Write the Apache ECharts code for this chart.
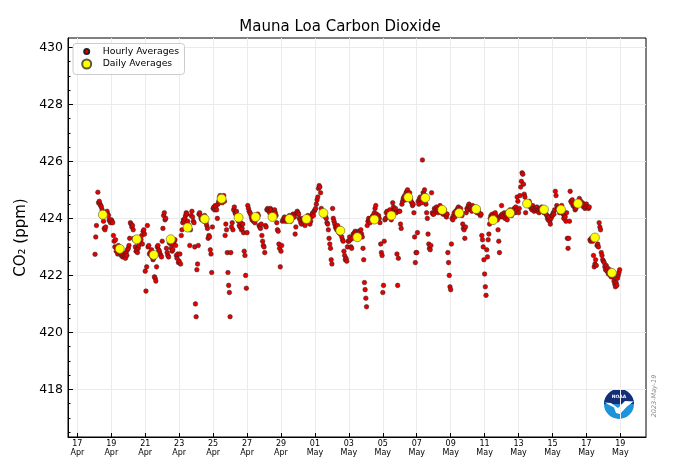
<!DOCTYPE html>
<html><head><meta charset="utf-8">
<script src="https://cdn.jsdelivr.net/npm/echarts@6/dist/echarts.min.js"></script>
<style>html,body{margin:0;padding:0;background:#fff}#chart{width:680px;height:476px}</style>
</head><body><div id="chart"></div>
<script>
const chartTitle = 'Mauna Loa Carbon Dioxide';
const yAxisTitle = 'CO₂ (ppm)';
const stampText = '2023-May-19';
const seriesNames = ['Hourly Averages', 'Daily Averages'];
const xRange = ['2023-04-16T10:45', '2023-05-20T12:15'];
const yRange = [416.33, 430.33];
const xTickDates = ['2023-04-17','2023-04-19','2023-04-21','2023-04-23','2023-04-25','2023-04-27','2023-04-29',
  '2023-05-01','2023-05-03','2023-05-05','2023-05-07','2023-05-09','2023-05-11','2023-05-13','2023-05-15','2023-05-17','2023-05-19'];
const xTickLabels = ['17\nApr','19\nApr','21\nApr','23\nApr','25\nApr','27\nApr','29\nApr',
  '01\nMay','03\nMay','05\nMay','07\nMay','09\nMay','11\nMay','13\nMay','15\nMay','17\nMay','19\nMay'];
const yMajorTicks = [418, 420, 422, 424, 426, 428, 430];
const yMinorTicks = [416.5, 417, 417.5, 418.5, 419, 419.5, 420.5, 421, 421.5, 422.5, 423, 423.5, 424.5, 425, 425.5, 426.5, 427, 427.5, 428.5, 429, 429.5];

const dailyDates = ['2023-04-18','2023-04-19','2023-04-20','2023-04-21','2023-04-22','2023-04-23','2023-04-24','2023-04-25',
  '2023-04-26','2023-04-27','2023-04-28','2023-04-29','2023-04-30','2023-05-01','2023-05-02','2023-05-03','2023-05-04',
  '2023-05-05','2023-05-06','2023-05-07','2023-05-08','2023-05-09','2023-05-10','2023-05-11','2023-05-12','2023-05-13',
  '2023-05-14','2023-05-15','2023-05-16','2023-05-17','2023-05-18'];
const dailyValues = [424.13, 422.93, 423.27, 422.72, 423.27, 423.68, 423.98, 424.69, 424.03, 424.05, 424.05, 423.98, 423.98,
  424.19, 423.57, 423.34, 423.96, 424.10, 424.74, 424.72, 424.30, 424.19, 424.33, 423.94, 424.19, 424.52, 424.31, 424.31,
  424.52, 423.33, 422.09];

// hourly values, hour 0..23 of each day
const hourly_04_18 = [null,422.74,423.35,423.75,null,424.92,424.55,424.6,424.5,424.45,424.4,424.3,424.05,423.9,423.65,423.6,423.7,424.2,424.25,424.15,424.1,423.95,423.9,423.85];
const hourly_04_19 = [423.95,423.9,423.85,423.4,423.2,423.0,423.25,422.85,422.95,422.75,423.05,422.9,422.8,422.95,422.7,422.85,422.65,422.75,422.7,422.65,422.6,422.8,422.7,422.9];
const hourly_04_20 = [422.95,423.05,423.3,423.85,423.8,423.7,423.75,423.6,423.3,423.25,423.0,422.85,422.9,422.8,422.95,423.05,423.3,423.2,423.25,423.4,423.1,423.55,423.6,423.45];
const hourly_04_21 = [422.15,421.45,422.3,423.75,423.0,423.05,422.75,422.8,422.7,422.9,422.65,422.55,422.6,421.95,421.9,421.8,422.3,423.0,423.05,422.9,422.85,422.75,422.7,422.65];
const hourly_04_22 = [423.2,423.65,424.1,424.2,423.95,424.0,422.95,422.8,422.7,422.65,423.15,423.3,423.1,422.95,422.85,422.9,423.1,423.2,423.25,423.05,422.7,422.6,422.75,422.45];
const hourly_04_23 = [422.5,422.75,422.4,423.4,423.6,423.85,423.95,423.9,424.0,424.1,424.2,424.15,423.9,423.7,423.75,423.05,423.6,424.1,424.25,424.05,423.9,423.85,423.0,421.0];
const hourly_04_24 = [420.55,422.2,422.4,423.05,424.15,424.2,424.1,424.0,423.95,424.05,424.0,423.9,424.1,423.95,423.85,423.75,423.65,423.3,423.4,423.35,422.9,422.75,422.1,423.7];
const hourly_04_25 = [424.35,424.4,424.3,424.45,424.4,424.3,424.0,424.5,424.6,424.75,424.8,424.7,424.65,424.55,424.7,424.8,424.6,423.4,423.8,423.6,422.8,422.1,421.65,421.4];
const hourly_04_26 = [420.55,422.8,423.7,423.85,423.6,424.3,424.4,424.2,424.15,424.25,424.1,424.0,423.9,423.75,423.7,423.85,423.6,423.65,423.8,423.5,422.85,422.7,422.0,421.55];
const hourly_04_27 = [423.5,424.45,424.35,424.25,424.2,424.15,424.05,423.95,424.0,423.9,424.0,423.85,423.95,424.1,424.0,424.15,424.1,423.75,423.7,423.65,423.8,423.4,423.2,423.05];
const hourly_04_28 = [423.0,422.8,423.75,423.7,424.3,424.35,424.3,424.25,424.2,424.35,424.3,424.15,424.2,424.1,424.25,424.3,424.2,424.1,423.85,423.6,423.55,423.1,422.95,422.3];
const hourly_04_29 = [422.85,423.05,423.9,423.95,424.0,424.05,423.9,423.95,424.0,423.9,424.05,424.0,424.1,423.95,423.9,424.05,424.0,424.15,424.1,424.05,423.45,423.7,424.2,424.25];
const hourly_04_30 = [424.2,424.15,424.0,423.95,423.85,423.8,423.95,424.0,423.9,423.85,423.75,424.0,423.95,423.9,424.1,424.05,423.85,423.8,423.9,424.05,424.15,424.2,424.1,424.25];
const hourly_05_01 = [424.3,424.35,424.5,424.65,424.75,425.05,425.15,425.1,424.9,424.35,424.2,424.25,424.15,424.2,424.1,424.05,424.0,423.85,423.8,423.6,423.3,423.1,422.95,422.55];
const hourly_05_02 = [422.4,424.35,424.0,423.9,423.8,423.7,423.65,423.6,423.75,423.55,423.5,423.65,423.45,423.6,423.35,423.25,423.2,422.85,422.7,422.55,422.6,422.5,423.0,423.2];
const hourly_05_03 = [423.2,423.35,423.25,423.0,422.95,423.3,423.45,423.4,423.5,423.55,423.5,423.35,423.3,423.45,423.55,423.5,423.4,423.6,423.45,423.35,422.95,422.55,421.75,421.5];
const hourly_05_04 = [421.2,420.9,423.75,423.9,424.0,423.9,423.85,424.0,423.95,424.05,424.1,424.0,424.2,424.35,424.45,424.15,424.0,423.95,424.1,424.0,423.85,423.1,422.8,422.7];
const hourly_05_05 = [421.4,421.65,423.2,423.95,424.0,424.2,424.25,424.1,424.05,424.2,424.3,424.15,423.95,424.1,424.55,424.4,424.3,424.25,424.35,424.2,422.75,421.65,422.6,424.25];
const hourly_05_06 = [424.25,423.8,423.65,424.5,424.6,424.7,424.75,424.8,424.65,424.9,424.95,425.0,424.85,424.8,424.9,424.7,424.6,424.55,424.45,424.5,424.2,423.35,422.45,422.8];
const hourly_05_07 = [422.8,423.5,424.6,424.5,424.7,424.75,424.65,424.55,426.05,424.9,424.85,425.0,424.8,424.5,424.2,424.0,423.45,423.1,422.95,422.9,423.05,424.9,424.2,424.15];
const hourly_05_08 = [424.15,424.35,424.3,424.25,424.4,424.3,424.2,424.35,424.25,424.45,424.3,424.2,424.35,424.15,424.25,424.3,424.2,424.1,424.05,424.15,422.8,422.45,422.0,421.6];
const hourly_05_09 = [421.5,423.1,424.0,423.95,424.1,424.2,424.05,424.25,424.15,424.3,424.35,424.4,424.3,424.25,424.35,424.2,424.1,423.8,423.65,423.6,423.3,423.7,424.2,424.35];
const hourly_05_10 = [424.3,424.45,424.5,424.35,424.4,424.3,424.25,424.45,424.35,424.3,424.4,424.25,424.3,424.2,424.35,424.25,424.2,424.15,424.1,424.15,423.4,423.25,423.0,422.55];
const hourly_05_11 = [422.05,421.6,421.3,422.9,422.65,423.25,423.45,423.8,424.0,424.1,424.05,424.15,424.0,424.1,424.05,424.2,424.1,424.0,423.95,423.6,423.2,422.8,424.05,424.1];
const hourly_05_12 = [424.45,424.15,424.05,424.1,424.2,424.0,424.15,424.1,423.95,424.2,424.25,424.15,424.3,424.2,424.1,424.25,424.3,424.2,424.35,424.2,424.4,424.3,424.75,424.6];
const hourly_05_13 = [424.2,424.35,424.8,425.1,425.3,425.6,425.55,425.2,424.85,424.75,424.2,424.6,424.55,424.5,424.45,424.6,424.5,424.4,424.35,424.3,424.45,424.35,424.25,424.3];
const hourly_05_14 = [424.35,424.3,424.4,424.25,424.3,424.2,424.35,424.3,424.25,424.4,424.3,424.35,424.2,424.25,424.3,424.15,424.1,424.0,423.95,424.05,423.9,423.8,424.0,424.1];
const hourly_05_15 = [424.1,424.2,424.15,424.3,424.95,424.8,424.45,424.35,424.3,424.4,424.2,424.35,424.25,424.45,424.3,424.15,424.0,424.1,424.05,423.9,424.2,423.3,422.95,423.3];
const hourly_05_16 = [423.9,424.95,424.6,424.55,424.65,424.45,424.5,424.4,424.3,424.35,424.45,424.5,424.55,424.6,424.7,424.55,424.6,424.5,424.55,424.45,424.4,424.5,424.35,424.4];
const hourly_05_17 = [424.5,424.4,null,424.35,424.4,423.25,423.2,423.3,423.25,423.2,422.7,422.3,422.4,422.55,422.35,423.05,423.1,423.0,423.85,423.7,423.6,422.8,422.7,422.55];
const hourly_05_18 = [422.5,422.45,422.3,422.2,422.35,422.15,422.25,422.05,422.1,422.2,422.0,421.95,422.05,422.1,421.95,421.8,421.7,421.6,421.75,421.65,421.9,422.0,422.1,422.2];

const hourlyDays = [
  ['2023-04-18', hourly_04_18], ['2023-04-19', hourly_04_19], ['2023-04-20', hourly_04_20], ['2023-04-21', hourly_04_21],
  ['2023-04-22', hourly_04_22], ['2023-04-23', hourly_04_23], ['2023-04-24', hourly_04_24], ['2023-04-25', hourly_04_25],
  ['2023-04-26', hourly_04_26], ['2023-04-27', hourly_04_27], ['2023-04-28', hourly_04_28], ['2023-04-29', hourly_04_29],
  ['2023-04-30', hourly_04_30], ['2023-05-01', hourly_05_01], ['2023-05-02', hourly_05_02], ['2023-05-03', hourly_05_03],
  ['2023-05-04', hourly_05_04], ['2023-05-05', hourly_05_05], ['2023-05-06', hourly_05_06], ['2023-05-07', hourly_05_07],
  ['2023-05-08', hourly_05_08], ['2023-05-09', hourly_05_09], ['2023-05-10', hourly_05_10], ['2023-05-11', hourly_05_11],
  ['2023-05-12', hourly_05_12], ['2023-05-13', hourly_05_13], ['2023-05-14', hourly_05_14], ['2023-05-15', hourly_05_15],
  ['2023-05-16', hourly_05_16], ['2023-05-17', hourly_05_17], ['2023-05-18', hourly_05_18]
];

const FONT = 'DejaVu Sans';
const HOUR = 3600000;
const t = s => new Date(s.length <= 10 ? s + 'T00:00' : s).getTime();

const hourlyPoints = [];
hourlyDays.forEach(([day, vals]) => {
  const base = t(day);
  vals.forEach((v, h) => { if (v != null) hourlyPoints.push([base + h * HOUR, v]); });
});
const dailyPoints = dailyDates.map((d, i) => [t(d) + 12 * HOUR, dailyValues[i]]);
const xTickValues = xTickDates.map(t);
const labelFor = v => {
  let best = 0, bd = Infinity;
  xTickValues.forEach((tv, i) => { const d = Math.abs(tv - v); if (d < bd) { bd = d; best = i; } });
  return bd < HOUR ? xTickLabels[best] : '';
};

const chart = echarts.init(document.getElementById('chart'), null, { renderer: 'canvas' });
chart.setOption({
  animation: false,
  backgroundColor: '#ffffff',
  textStyle: { fontFamily: FONT },
  title: {
    text: chartTitle, left: 'center', top: 18, padding: [0, 0, 0, 34],
    textStyle: { fontFamily: FONT, fontSize: 15, fontWeight: 'normal', color: '#000', lineHeight: 18 }
  },
  legend: [
    { data: [seriesNames[0]], orient: 'vertical', left: 83.2, top: 46, padding: 0, itemWidth: 5, itemHeight: 5,
      textStyle: { fontFamily: FONT, fontSize: 9.3, color: '#000', lineHeight: 11, padding: [0, 0, 0, 8.5] }, selectedMode: false },
    { data: [seriesNames[1]], orient: 'vertical', left: 81.2, top: 58.5, padding: 0, itemWidth: 9, itemHeight: 9,
      textStyle: { fontFamily: FONT, fontSize: 9.3, color: '#000', lineHeight: 11, padding: [0, 0, 0, 6.5] }, selectedMode: false }
  ],
  grid: { left: 68, top: 38, width: 578, height: 399, containLabel: false, outerBoundsMode: 'none',
    show: true, borderColor: '#000', borderWidth: 1, backgroundColor: 'transparent' },
  xAxis: {
    type: 'value', min: t(xRange[0]), max: t(xRange[1]), scale: true,
    axisLine: { show: true, onZero: false, lineStyle: { color: '#000', width: 1 } },
    axisTick: { show: true, inside: true, length: 4, customValues: xTickValues, lineStyle: { color: '#000' } },
    axisLabel: { customValues: xTickValues, formatter: v => labelFor(v), fontFamily: FONT, fontSize: 8,
      lineHeight: 9, color: '#000', margin: 2.5, hideOverlap: false },
    splitLine: { show: true, lineStyle: { color: '#ebebeb', width: 1 } }
  },
  yAxis: [
    { type: 'value', min: yRange[0], max: yRange[1], position: 'left', scale: true,
      name: yAxisTitle, nameLocation: 'middle', nameGap: 30, nameRotate: 90,
      nameTextStyle: { fontFamily: FONT, fontSize: 15, color: '#000' },
      axisLine: { show: true, onZero: false, lineStyle: { color: '#000', width: 1 } },
      axisTick: { show: true, inside: true, length: 5, customValues: yMajorTicks, lineStyle: { color: '#000' } },
      axisLabel: { customValues: yMajorTicks, fontFamily: FONT, fontSize: 12.5, color: '#000', margin: 5 },
      splitLine: { show: true, lineStyle: { color: '#ebebeb', width: 1 } } },
    { type: 'value', min: yRange[0], max: yRange[1], position: 'left', scale: true,
      axisLine: { show: false },
      axisTick: { show: true, inside: true, length: 2.5, customValues: yMinorTicks, lineStyle: { color: '#000' } },
      axisLabel: { show: false }, splitLine: { show: false } }
  ],
  series: [
    { name: seriesNames[0], type: 'scatter', data: hourlyPoints, symbol: 'circle', symbolSize: 4.6,
      itemStyle: { color: '#e60000', borderColor: '#222222', borderWidth: 0.5, opacity: 1 }, z: 3 },
    { name: seriesNames[1], type: 'scatter', data: dailyPoints, symbol: 'circle', symbolSize: 9,
      itemStyle: { color: '#ffff00', borderColor: '#5a5a30', borderWidth: 0.6, opacity: 1 }, z: 4 }
  ],
  graphic: [
    { type: 'rect', left: 72.5, top: 43, shape: { width: 111.5, height: 31, r: 3 },
      style: { fill: 'rgba(255,255,255,0.8)', stroke: '#cccccc', lineWidth: 1 }, z: 1 },
    { type: 'text', x: 654, y: 396, rotation: Math.PI / 2,
      style: { text: stampText, fontFamily: FONT, fontSize: 6.5, fontStyle: 'italic', fill: '#8a8a8a',
        align: 'center', verticalAlign: 'middle' } },
    { type: 'group', x: 619, y: 404, children: [
      { type: 'circle', shape: { cx: 0, cy: 0, r: 15 }, style: { fill: '#1c93da' } },
      { type: 'sector', shape: { cx: 0, cy: 0, r: 15, r0: 0, startAngle: Math.PI * 1.0, endAngle: Math.PI * 2.0 },
        style: { fill: '#142f78' } },
      { type: 'polygon', shape: { points: [[-14.5, -1.5], [-8, -1], [-1, 4], [6, -3], [14.5, -2.5], [8, 2.5], [1, 10], [-3, 9], [-5, 3.5]] },
        style: { fill: '#ffffff' } },
      { type: 'text', x: 0, y: -7, style: { text: 'NOAA', fontFamily: FONT, fontSize: 4.5, fontWeight: 'bold',
        fill: '#ffffff', align: 'center', verticalAlign: 'middle' } }
    ] }
  ]
});
</script>
</body></html>
